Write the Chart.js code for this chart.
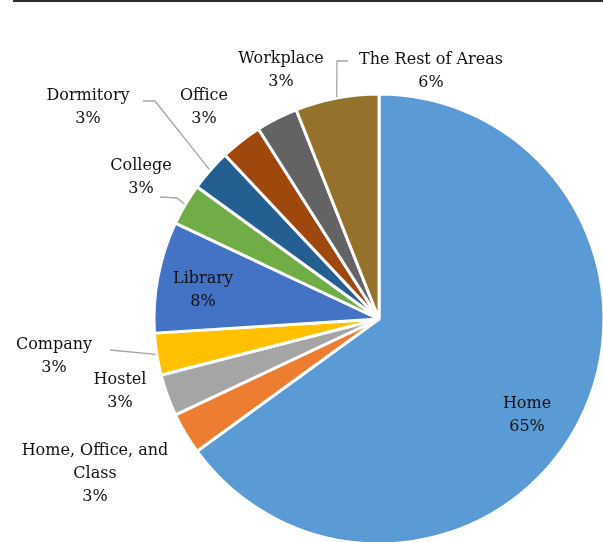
<!DOCTYPE html>
<html>
<head>
<meta charset="utf-8">
<script src="https://cdn.jsdelivr.net/npm/chart.js@4/dist/chart.umd.min.js"></script>
<style>
  html, body { margin: 0; padding: 0; background: #fff; }
  #wrap { position: relative; width: 603px; height: 542px; overflow: hidden; }
  #topline { position: absolute; left: 13px; top: 0; width: 590px; height: 2px; background: #2b2b2b; }
  #grafico { position: absolute; left: 0; top: 0; }
</style>
</head>
<body>
<div id="wrap">
  <div id="topline"></div>
  <canvas id="grafico" width="620" height="560"></canvas>
</div>
<script>
// dados do gráfico (ordem horária a partir do topo)
const categorias = ["Home", "Home, Office, and Class", "Hostel", "Company", "Library",
    "College", "Dormitory", "Office", "Workplace", "The Rest of Areas"];
const percentuais = [65, 3, 3, 3, 8, 3, 3, 3, 3, 6];
const cores = ["#5B9BD5", "#ED7D31", "#A5A5A5", "#FFC000", "#4472C4",
    "#70AD47", "#255E91", "#9E480E", "#636363", "#95722B"];

// posição dos rótulos (centro do texto) e linhas-guia
const rotulos = [
    { linhas: ["Home"], x: 527, y: 404 },
    { linhas: ["Home, Office, and", "Class"], x: 95, y: 451 },
    { linhas: ["Hostel"], x: 120, y: 380 },
    { linhas: ["Company"], x: 54, y: 345, guia: [[110, 350]] },
    { linhas: ["Library"], x: 203, y: 279 },
    { linhas: ["College"], x: 141, y: 166, guia: [[160, 197], [177, 198]] },
    { linhas: ["Dormitory"], x: 88, y: 96, guia: [[143, 101], [155, 101]] },
    { linhas: ["Office"], x: 204, y: 96 },
    { linhas: ["Workplace"], x: 281, y: 59 },
    { linhas: ["The Rest of Areas"], x: 431, y: 60, guia: [[348, 61], [337, 61]] }
];

const pluginRotulos = {
    id: "rotulos",
    afterDatasetsDraw(chart) {
        const ctx = chart.ctx;
        const arcos = chart.getDatasetMeta(0).data;
        ctx.save();
        // linhas-guia até a borda da fatia
        ctx.strokeStyle = "#a6a6a6";
        ctx.lineWidth = 1.3;
        rotulos.forEach((r, i) => {
            if (!r.guia) return;
            const a = arcos[i];
            const meio = (a.startAngle + a.endAngle) / 2;
            const px = a.x + Math.cos(meio) * (a.outerRadius + 1);
            const py = a.y + Math.sin(meio) * (a.outerRadius + 1);
            ctx.beginPath();
            ctx.moveTo(r.guia[0][0], r.guia[0][1]);
            r.guia.slice(1).forEach(p => ctx.lineTo(p[0], p[1]));
            ctx.lineTo(px, py);
            ctx.stroke();
        });
        // textos
        ctx.fillStyle = "#111";
        ctx.font = "16px 'DejaVu Serif'";
        ctx.textAlign = "center";
        ctx.textBaseline = "middle";
        rotulos.forEach((r, i) => {
            const txt = r.linhas.concat([percentuais[i] + "%"]);
            txt.forEach((t, k) => ctx.fillText(t, r.x, r.y + k * 23));
        });
        ctx.restore();
    }
};

new Chart(document.getElementById("grafico"), {
    type: "pie",
    data: {
        labels: categorias,
        datasets: [{
            data: percentuais,
            backgroundColor: cores,
            borderColor: "#ffffff",
            borderWidth: 3
        }]
    },
    options: {
        responsive: false,
        animation: false,
        layout: { padding: { left: 152.5, top: 92.5, right: 14.5, bottom: 14.5 } },
        plugins: {
            legend: { display: false },
            tooltip: { enabled: false }
        }
    },
    plugins: [pluginRotulos]
});
</script>
</body>
</html>
